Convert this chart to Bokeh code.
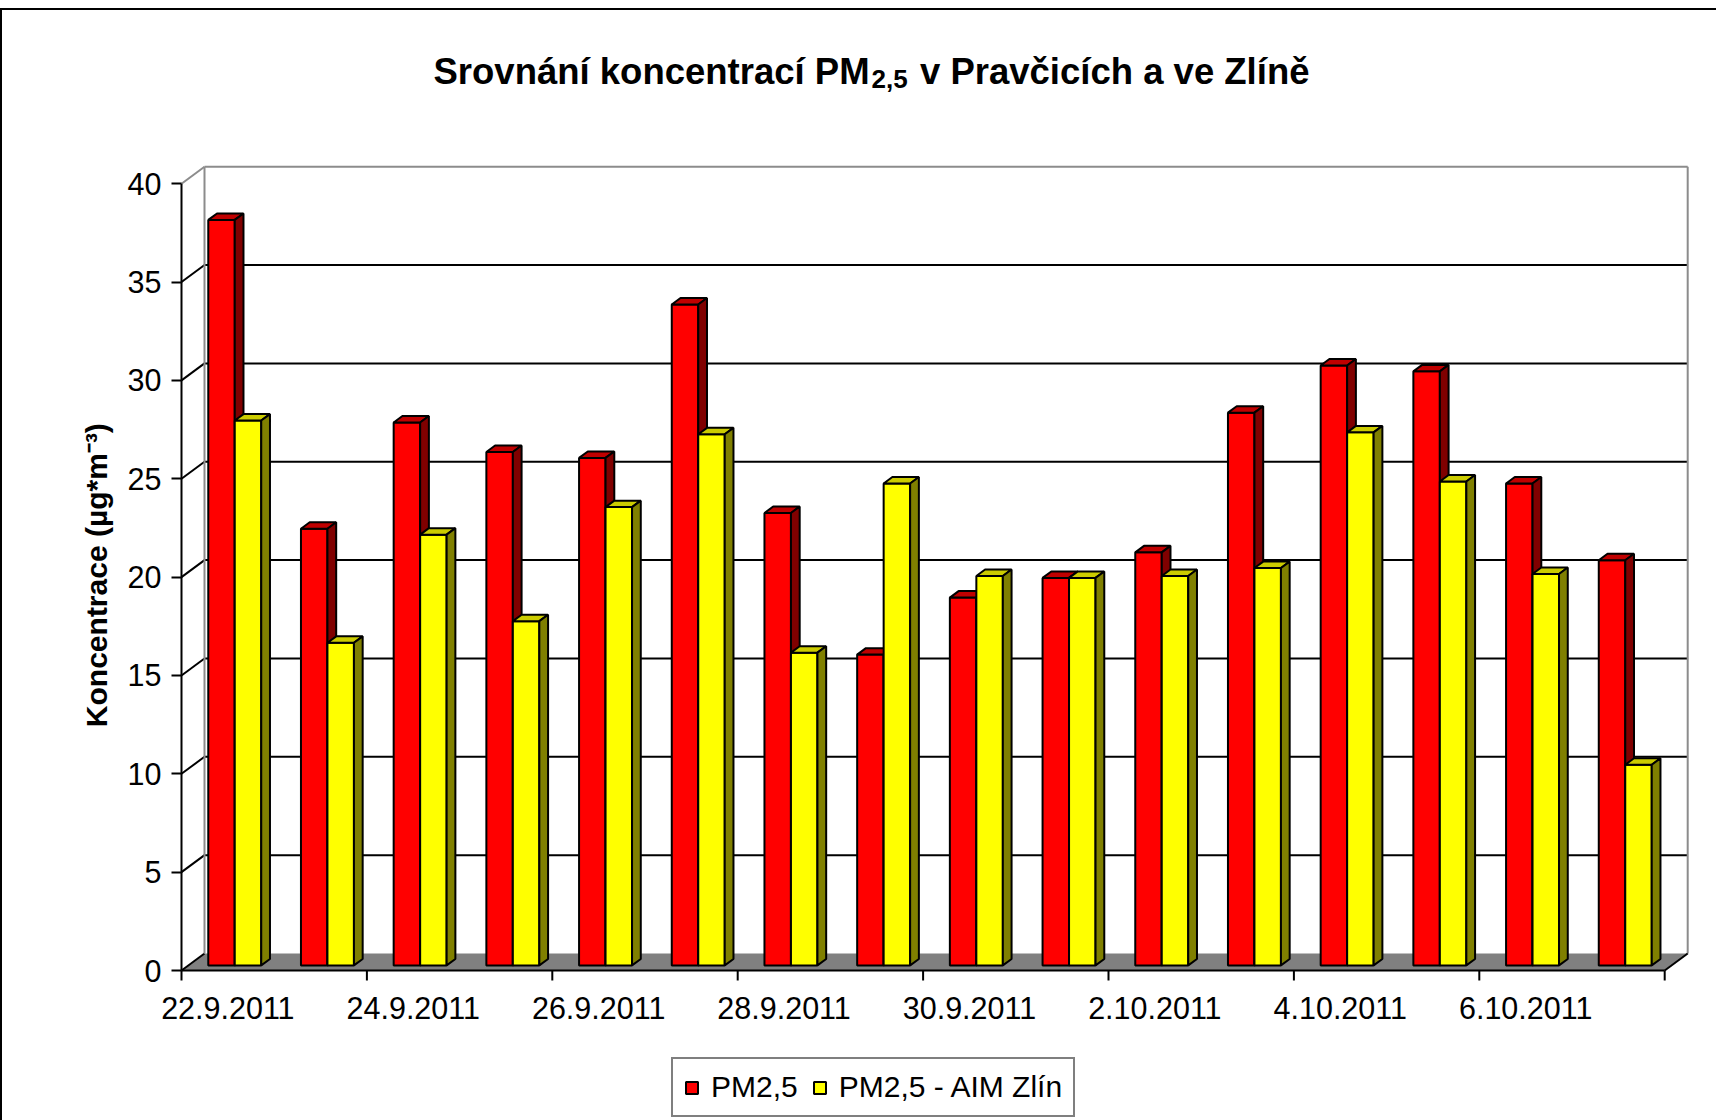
import math
from bokeh.plotting import figure
from bokeh.models import Range1d, FixedTicker, Legend, LegendItem
from bokeh.core.properties import value
from bokeh.embed import file_html
from bokeh.resources import INLINE

# ---------------- data ----------------
dates = ["22.9.2011", "23.9.2011", "24.9.2011", "25.9.2011", "26.9.2011", "27.9.2011",
         "28.9.2011", "29.9.2011", "30.9.2011", "1.10.2011", "2.10.2011", "3.10.2011",
         "4.10.2011", "5.10.2011", "6.10.2011", "7.10.2011"]
pm25 = [37.9, 22.2, 27.6, 26.1, 25.8, 33.6, 23.0, 15.8, 18.7, 19.7, 21.0, 28.1, 30.5, 30.2, 24.5, 20.6]
pm25_aim = [27.7, 16.4, 21.9, 17.5, 23.3, 27.0, 15.9, 24.5, 19.8, 19.7, 19.8, 20.2, 27.1, 24.6, 19.9, 10.2]
series_names = ["PM2,5", "PM2,5 - AIM Zlín"]
title_parts = ["Srovnání koncentrací PM", "2,5", "v Pravčicích a ve Zlíně"]
y_title = "Koncentrace (µg*m⁻³)"
y_ticks = [0, 5, 10, 15, 20, 25, 30, 35, 40]
x_label_every = 2

FONT = "Liberation Sans"

# ---------------- layout ----------------
W, H = 1716, 1112
FL, FR, FT, FB = 3, 1692, 3, 1112         # frame edges (figure px)
AXIS_PX = 181                             # figure px of the value axis
PX_X = 92.7                               # px per category
PX_Y = 19.67                              # px per unit
ZERO_PX = 962                             # figure px of value 0
n = len(dates)
x_start = -(AXIS_PX - FL) / PX_X
x_end = (FR - AXIS_PX) / PX_X
y_start = -(FB - ZERO_PX) / PX_Y
y_end = y_start + (FB - FT) / PX_Y
y_max = y_ticks[-1]

def sx(px):   # figure pixel column -> data units
    return (px - AXIS_PX) / PX_X

def sy(py):   # figure pixel row -> data units
    return (ZERO_PX - py) / PX_Y

# 3-D depth (data units)
DX = 23.0 / PX_X
DY = 17.0 / PX_Y
F0, F1 = 0.30, 0.68
BW = 1.0 / 3.5

p = figure(width=W, height=H, x_range=Range1d(x_start, x_end), y_range=Range1d(y_start, y_end),
           x_axis_location=None,
           min_border_left=FL, min_border_right=W - FR, min_border_top=FT,
           min_border_bottom=H - FB, output_backend="svg", toolbar_location=None, tools="")
p.outline_line_color = None
p.xgrid.visible = False
p.ygrid.visible = False
p.background_fill_color = None
p.border_fill_color = None
p.styles = {"margin-top": "8px", "box-shadow": "inset 2px 2px 0 0 black"}

# ---------------- title (PM with subscript 2,5) ----------------
p.text(x=[sx(433)], y=[sy(63)], text=[title_parts[0]], text_align="left",
       text_baseline="alphabetic", text_font=value(FONT), text_font_size="36.5px",
       text_font_style="bold", text_color="black")
p.text(x=[sx(871)], y=[sy(70)], text=[title_parts[1]], text_align="left",
       text_baseline="alphabetic", text_font=value(FONT), text_font_size="26px",
       text_font_style="bold", text_color="black")
p.text(x=[sx(1309)], y=[sy(63)], text=[title_parts[2]], text_align="right",
       text_baseline="alphabetic", text_font=value(FONT), text_font_size="36.5px",
       text_font_style="bold", text_color="black")

# y axis, fixed at the front-left edge of the floor
yax = p.yaxis[0]
yax.fixed_location = 0
yax.ticker = FixedTicker(ticks=y_ticks)
yax.bounds = (y_ticks[0], y_ticks[-1])
yax.axis_line_color = None
yax.major_tick_out = 10
yax.major_tick_in = 0
yax.major_tick_line_width = 2
yax.major_tick_line_color = "black"
yax.minor_tick_line_color = None
yax.major_label_text_font = FONT
yax.major_label_text_font_size = "30.5px"
yax.major_label_text_color = "black"
yax.major_label_standoff = 10

# value-axis title
p.text(x=[sx(96)], y=[(y_ticks[0] + y_ticks[-1]) / 2 + 0.1], text=[y_title], angle=math.pi / 2,
       text_align="center", text_baseline="middle", text_font=value(FONT),
       text_font_size="30px", text_font_style="bold", text_color="black")

# ---------------- walls & floor ----------------
p.patch([0, n, n + DX, DX], [0, 0, DY, DY], fill_color="#808080", line_color=None)
grid_vals = [v for v in y_ticks if 0 < v < y_max]
p.segment(x0=[DX] * len(grid_vals), y0=[v + DY for v in grid_vals],
          x1=[n + DX] * len(grid_vals), y1=[v + DY for v in grid_vals],
          line_color="black", line_width=2)
diag_vals = [v for v in y_ticks if v < y_max]
p.segment(x0=[0] * len(diag_vals), y0=diag_vals, x1=[DX] * len(diag_vals),
          y1=[v + DY for v in diag_vals], line_color="black", line_width=2)
# wall edges (gray)
p.segment(x0=[0, DX, DX, n + DX], y0=[y_max, DY, y_max + DY, DY],
          x1=[DX, DX, n + DX, n + DX], y1=[y_max + DY, y_max + DY, y_max + DY, y_max + DY],
          line_color="#8c8c8c", line_width=2)
# floor front edge (category axis line), right diagonal, value axis line
p.segment(x0=[0, n, 0], y0=[0, 0, 0], x1=[n, n + DX, 0], y1=[0, DY, y_max],
          line_color="black", line_width=2)
# category ticks
tick_x = list(range(0, n + 1, x_label_every))
p.segment(x0=tick_x, y0=[0] * len(tick_x), x1=tick_x, y1=[-10 / PX_Y] * len(tick_x),
          line_color="black", line_width=2)
# category labels
lab_idx = list(range(0, n, x_label_every))
p.text(x=[i + 0.5 for i in lab_idx], y=[-37 / PX_Y] * len(lab_idx), text=[dates[i] for i in lab_idx],
       text_align="center", text_baseline="middle", text_font=value(FONT),
       text_font_size="30.5px", text_color="black")

# ---------------- 3-D bars ----------------
def bar_faces(values, offset):
    fx, fy, tx, ty, sxs, sys_ = [], [], [], [], [], []
    ddx, ddy = (F1 - F0) * DX, (F1 - F0) * DY
    for i, v in enumerate(values):
        x0 = i + offset + F0 * DX
        x1 = x0 + BW
        y0 = F0 * DY
        y1 = v + F0 * DY
        fx.append([x0, x1, x1, x0]); fy.append([y0, y0, y1, y1])
        tx.append([x0, x1, x1 + ddx, x0 + ddx]); ty.append([y1, y1, y1 + ddy, y1 + ddy])
        sxs.append([x1, x1 + ddx, x1 + ddx, x1]); sys_.append([y0, y0 + ddy, y1 + ddy, y1])
    return fx, fy, tx, ty, sxs, sys_

styles = [("#FF0000", "#C00000", "#800000"), ("#FFFF00", "#CCCC00", "#808000")]
fronts = []
for values, offset, (cf, ct, cs) in zip([pm25, pm25_aim], [0.5 - BW, 0.5], styles):
    fx, fy, tx, ty, sxs, sys_ = bar_faces(values, offset)
    fr = p.patches(fx, fy, fill_color=cf, line_color="black", line_width=2)
    p.patches(tx, ty, fill_color=ct, line_color="black", line_width=2)
    p.patches(sxs, sys_, fill_color=cs, line_color="black", line_width=2)
    fronts.append(fr)

# ---------------- legend ----------------
legend = Legend(items=[LegendItem(label=series_names[0], renderers=[fronts[0]]),
                       LegendItem(label=series_names[1], renderers=[fronts[1]])],
                orientation="horizontal", location=(668, 3))
legend.border_line_color = "black"
legend.border_line_width = 2
legend.background_fill_color = "white"
legend.background_fill_alpha = 1
legend.label_text_font = FONT
legend.label_text_font_size = "30px"
legend.label_text_color = "black"
legend.glyph_width = 15
legend.glyph_height = 15
legend.label_standoff = 12
legend.spacing = 14
legend.padding = 11
legend.margin = 0
p.add_layout(legend)

open("out.html", "w").write(file_html(p, INLINE))
